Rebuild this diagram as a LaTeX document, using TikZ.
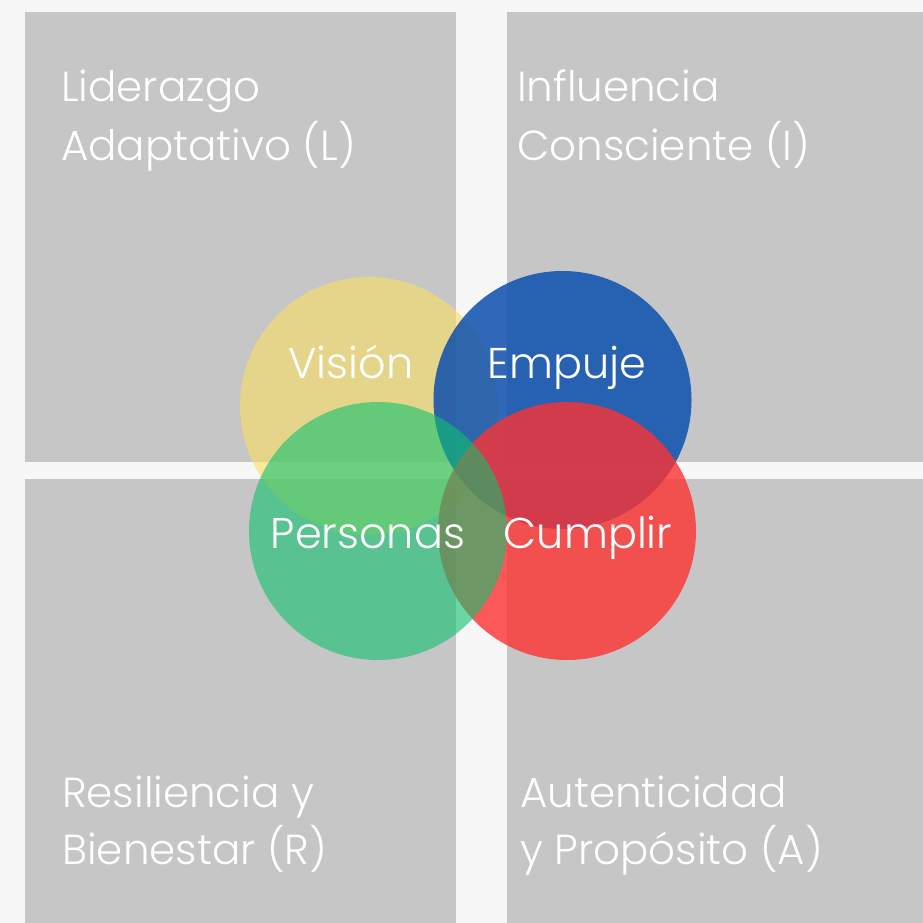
\documentclass[tikz,border=0pt]{standalone}
\usepackage{fontspec}
\setmainfont{Poppins Light}
\definecolor{bgc}{RGB}{247,247,247}
\definecolor{boxc}{RGB}{198,198,198}
\definecolor{yel}{RGB}{251,223,98}
\definecolor{blu}{RGB}{12,80,174}
\definecolor{grn}{RGB}{15,193,110}
\definecolor{rd}{RGB}{253,50,50}
\tikzset{
  quad/.style={fill=boxc, draw=none},
  blob/.style={circle, minimum size=258pt, inner sep=0pt, draw=none},
  outer/.style={anchor=base west, inner sep=0pt, text=white, font=\fontsize{42}{50}\selectfont},
  inner/.style={anchor=base, inner sep=0pt, text=white, font=\fontsize{43}{50}\selectfont},
}
\begin{document}
\begin{tikzpicture}[x=1pt,y=-1pt]
\fill[bgc] (0,0) rectangle (923,923);
\useasboundingbox (0,0) rectangle (923,923);
\fill[quad] (25,12) rectangle (456,462);
\fill[quad] (507,12) rectangle (923,462);
\fill[quad] (25,479) rectangle (456,923);
\fill[quad] (507,479) rectangle (923,923);
\node[outer] (l1) at (61,102) {Liderazgo};
\node[outer] (l2) at (61,160) {Adaptativo (L)};
\node[outer] (i1) at (517,102) {Influencia};
\node[outer] (i2) at (517,160) {Consciente (I)};
\node[outer] (r1) at (62,807) {Resiliencia y};
\node[outer] (r2) at (62,864) {Bienestar (R)};
\node[outer] (a1) at (520,807) {Autenticidad};
\node[outer] (a2) at (520,864) {y Propósito (A)};
\node[blob, fill=yel, fill opacity=0.6] (cv) at (369,406) {};
\node[blob, fill=blu, fill opacity=0.85] (ce) at (562.5,400) {};
\node[blob, fill=rd, fill opacity=0.8] (cc) at (567,531) {};
\node[blob, fill=grn, fill opacity=0.6] (cp) at (378,531) {};
\node[inner] (tv) at (351,378) {Visión};
\node[inner] (te) at (567,378) {Empuje};
\node[inner] (tp) at (368,548) {Personas};
\node[inner] (tc) at (588,548) {Cumplir};
\end{tikzpicture}
\end{document}
